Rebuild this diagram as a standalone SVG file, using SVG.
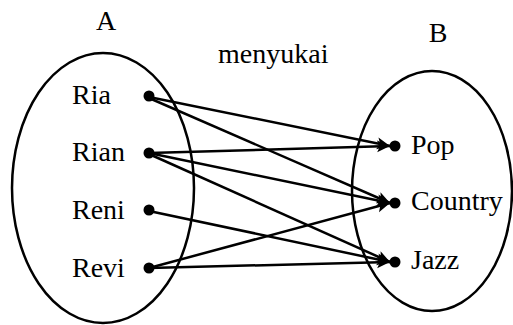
<svg xmlns="http://www.w3.org/2000/svg" width="513" height="325" viewBox="0 0 513 325">
<style>
.set{fill:none;stroke:#000;stroke-width:2.5}
.dot{fill:#000}
.edge{stroke:#000;stroke-width:2.5;fill:none;marker-end:url(#arr)}
</style>
<defs>
<marker id="arr" markerUnits="userSpaceOnUse" markerWidth="14" markerHeight="14" viewBox="0 0 14 14" refX="13" refY="7" orient="auto">
<path d="M0,1 L13,7 L0,13 L3,7 Z" fill="#000"/>
</marker>
</defs>
<g font-family="Liberation Serif, Times New Roman, serif" font-size="28" fill="#000">
<g id="setA">
<ellipse class="set" cx="103" cy="188" rx="91" ry="135"/>
<text x="106" y="30" text-anchor="middle">A</text>
</g>
<g id="setB">
<ellipse class="set" cx="432" cy="191" rx="80" ry="120"/>
<text x="438" y="42" text-anchor="middle">B</text>
</g>
<text id="relation" x="218" y="63">menyukai</text>
<g id="ria"><circle class="dot" cx="149" cy="96" r="5.5"/><text x="72" y="104">Ria</text></g>
<g id="rian"><circle class="dot" cx="149" cy="153" r="5.5"/><text x="72" y="161">Rian</text></g>
<g id="reni"><circle class="dot" cx="149" cy="210" r="5.5"/><text x="72" y="219">Reni</text></g>
<g id="revi"><circle class="dot" cx="149" cy="268" r="5.5"/><text x="72" y="277">Revi</text></g>
<g id="pop"><circle class="dot" cx="395" cy="146" r="5.5"/><text x="411" y="154">Pop</text></g>
<g id="country"><circle class="dot" cx="395" cy="203" r="5.5"/><text x="411" y="210">Country</text></g>
<g id="jazz"><circle class="dot" cx="395" cy="262" r="5.5"/><text x="411" y="269">Jazz</text></g>
</g>
<g id="connectors">
<line class="edge" x1="149" y1="97" x2="390" y2="146"/>
<line class="edge" x1="149" y1="98" x2="390" y2="203"/>
<line class="edge" x1="149" y1="153" x2="390" y2="146"/>
<line class="edge" x1="149" y1="153" x2="390" y2="203"/>
<line class="edge" x1="149" y1="154" x2="390" y2="262"/>
<line class="edge" x1="149" y1="211" x2="390" y2="262"/>
<line class="edge" x1="149" y1="268" x2="390" y2="203"/>
<line class="edge" x1="149" y1="268" x2="390" y2="262"/>
</g>
</svg>
